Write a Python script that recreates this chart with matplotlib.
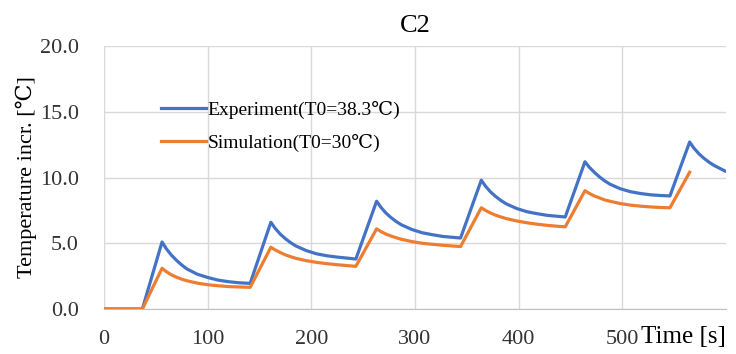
import matplotlib

matplotlib.use("Agg")
import matplotlib.pyplot as plt

# Values (time in s, temperature increase in degC).
exp_time = [0, 37,
            56, 60, 65, 70, 75, 80, 90, 100, 110, 120, 130, 141,
            161, 165, 170, 175, 180, 185, 195, 205, 215, 225, 235, 243,
            263, 267, 272, 277, 282, 287, 297, 307, 317, 327, 337, 344,
            364, 368, 373, 378, 383, 388, 398, 408, 418, 428, 438, 445,
            464, 468, 473, 478, 483, 488, 498, 508, 518, 528, 538, 546,
            565, 569, 574, 579, 584, 589, 594, 599]
exp_temp = [0.0, 0.0,
            5.1, 4.6, 4.1, 3.7, 3.35, 3.05, 2.65, 2.4, 2.2, 2.08, 2.0, 1.95,
            6.6, 6.15, 5.7, 5.35, 5.05, 4.8, 4.45, 4.2, 4.05, 3.95, 3.87, 3.8,
            8.2, 7.75, 7.3, 6.95, 6.65, 6.4, 6.05, 5.8, 5.65, 5.52, 5.45, 5.4,
            9.8, 9.35, 8.9, 8.55, 8.25, 8.0, 7.65, 7.4, 7.25, 7.12, 7.05, 7.0,
            11.2, 10.8, 10.4, 10.05, 9.75, 9.5, 9.15, 8.92, 8.78, 8.68, 8.63, 8.6,
            12.7, 12.25, 11.8, 11.45, 11.15, 10.9, 10.7, 10.5]

sim_time = [0, 37,
            56, 60, 65, 70, 75, 80, 90, 100, 110, 120, 130, 141,
            161, 165, 170, 175, 180, 185, 195, 205, 215, 225, 235, 243,
            263, 267, 272, 277, 282, 287, 297, 307, 317, 327, 337, 344,
            364, 368, 373, 378, 383, 388, 398, 408, 418, 428, 438, 445,
            464, 468, 473, 478, 483, 488, 498, 508, 518, 528, 538, 546,
            565]
sim_temp = [0.0, 0.0,
            3.1, 2.85, 2.6, 2.42, 2.27, 2.15, 1.97, 1.85, 1.77, 1.71, 1.68, 1.65,
            4.7, 4.5, 4.3, 4.12, 3.98, 3.86, 3.68, 3.55, 3.45, 3.37, 3.3, 3.25,
            6.1, 5.9, 5.7, 5.55, 5.42, 5.3, 5.13, 5.0, 4.92, 4.85, 4.79, 4.75,
            7.7, 7.5, 7.3, 7.13, 7.0, 6.88, 6.7, 6.56, 6.45, 6.36, 6.29, 6.25,
            9.0, 8.8, 8.6, 8.45, 8.3, 8.2, 8.02, 7.9, 7.82, 7.76, 7.72, 7.7,
            10.4]

x_ticks = [0, 100, 200, 300, 400, 500]
y_ticks = [0.0, 5.0, 10.0, 15.0, 20.0]

SERIF = ["Liberation Serif", "DejaVu Serif"]
plt.rcParams["font.family"] = SERIF

fig = plt.figure(figsize=(7.36, 3.54), dpi=100)
ax = fig.add_axes([0.1413, 0.127, 0.845, 0.743])

ax.plot(exp_time, exp_temp, color="#4472C4", lw=2.3, label="Experiment(T0=38.3℃)")
ax.plot(sim_time, sim_temp, color="#ED7D31", lw=2.3, label="Simulation(T0=30℃)")

ax.set_xlim(0, 600)
ax.set_ylim(0, 20)
ax.set_xticks(x_ticks)
ax.set_yticks(y_ticks)
ax.set_yticklabels([f"{v:.1f}" for v in y_ticks])
ax.tick_params(length=0, labelsize=16, colors="#333333")
ax.tick_params(axis="y", pad=18)
ax.tick_params(axis="x", pad=15)
ax.grid(True, color="#d9d9d9", lw=1.0)
ax.set_axisbelow(True)
for side in ["top", "right", "left"]:
    ax.spines[side].set_visible(False)
ax.spines["bottom"].set_color("#bfbfbf")

ax.set_title("C2", fontsize=19, pad=10)
ax.set_ylabel("Temperature incr. [℃]", fontsize=16)
ax.yaxis.set_label_coords(-0.107, 0.5)
ax.text(1.0, -0.105, "Time [s]", transform=ax.transAxes, fontsize=18,
        ha="right", va="center")

ax.legend(loc="upper left", bbox_to_anchor=(0.076, 0.83), frameon=False,
          fontsize=14, handlelength=2.3, handletextpad=0.1, labelspacing=0.8,
          borderpad=0)

fig.savefig("out.png", dpi=100)
